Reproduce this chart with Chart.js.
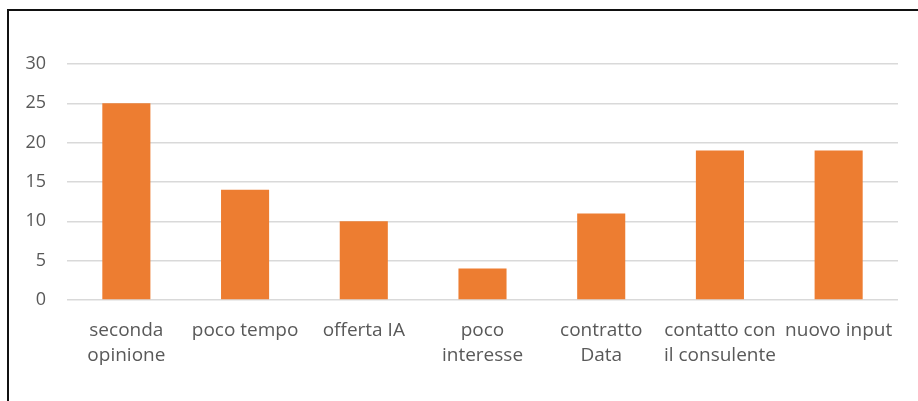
<!DOCTYPE html>
<html>
<head>
<meta charset="utf-8">
<script src="https://cdn.jsdelivr.net/npm/chart.js@4"></script>
<style>
  html, body { margin: 0; padding: 0; background: #fff; overflow: hidden; }
  #wrap { position: absolute; left: 0; top: 0; width: 918px; height: 401px; }
  #frame { position: absolute; left: 7px; top: 9px; width: 930px; height: 420px;
           border-left: 2px solid #111; border-top: 2px solid #111; pointer-events: none; }
</style>
</head>
<body>
<div id="wrap"><canvas id="grafico" width="918" height="401"></canvas></div>
<div id="frame"></div>
<script>
const categorie = [
  ['seconda', 'opinione'],
  'poco tempo',
  'offerta IA',
  ['poco', 'interesse'],
  ['contratto', 'Data'],
  ['contatto con', 'il consulente'],
  'nuovo input'
];
const valori = [25, 14, 10, 4, 11, 19, 19];
const tickY = [0, 5, 10, 15, 20, 25, 30];

document.addEventListener("DOMContentLoaded", function() {
    const ctx = document.getElementById('grafico').getContext('2d');

    new Chart(ctx, {
        type: 'bar',
        data: {
            labels: categorie,
            datasets: [{
                data: valori,
                backgroundColor: '#ED7D31',
                categoryPercentage: 1,
                barPercentage: 0.405
            }]
        },
        options: {
            responsive: false,
            animation: false,
            layout: { padding: { top: 64, right: 20, left: 0, bottom: 0 } },
            plugins: { legend: { display: false }, tooltip: { enabled: false } },
            scales: {
                x: {
                    grid: { display: false },
                    border: { display: false },
                    ticks: { color: '#595959', font: { family: 'Open Sans', size: 19, lineHeight: 1.32 }, padding: 10, maxRotation: 0 },
                    afterFit: s => { s.height = 101; }
                },
                y: {
                    min: 0, max: 30,
                    afterBuildTicks: s => { s.ticks = tickY.map(v => ({ value: v })); },
                    grid: { color: '#d9d9d9', lineWidth: 1.5, drawTicks: false },
                    border: { display: false },
                    ticks: { color: '#595959', font: { family: 'Open Sans', size: 18 }, padding: 21 },
                    afterFit: s => { s.width = 67; }
                }
            }
        }
    });
});
</script>
</body>
</html>
